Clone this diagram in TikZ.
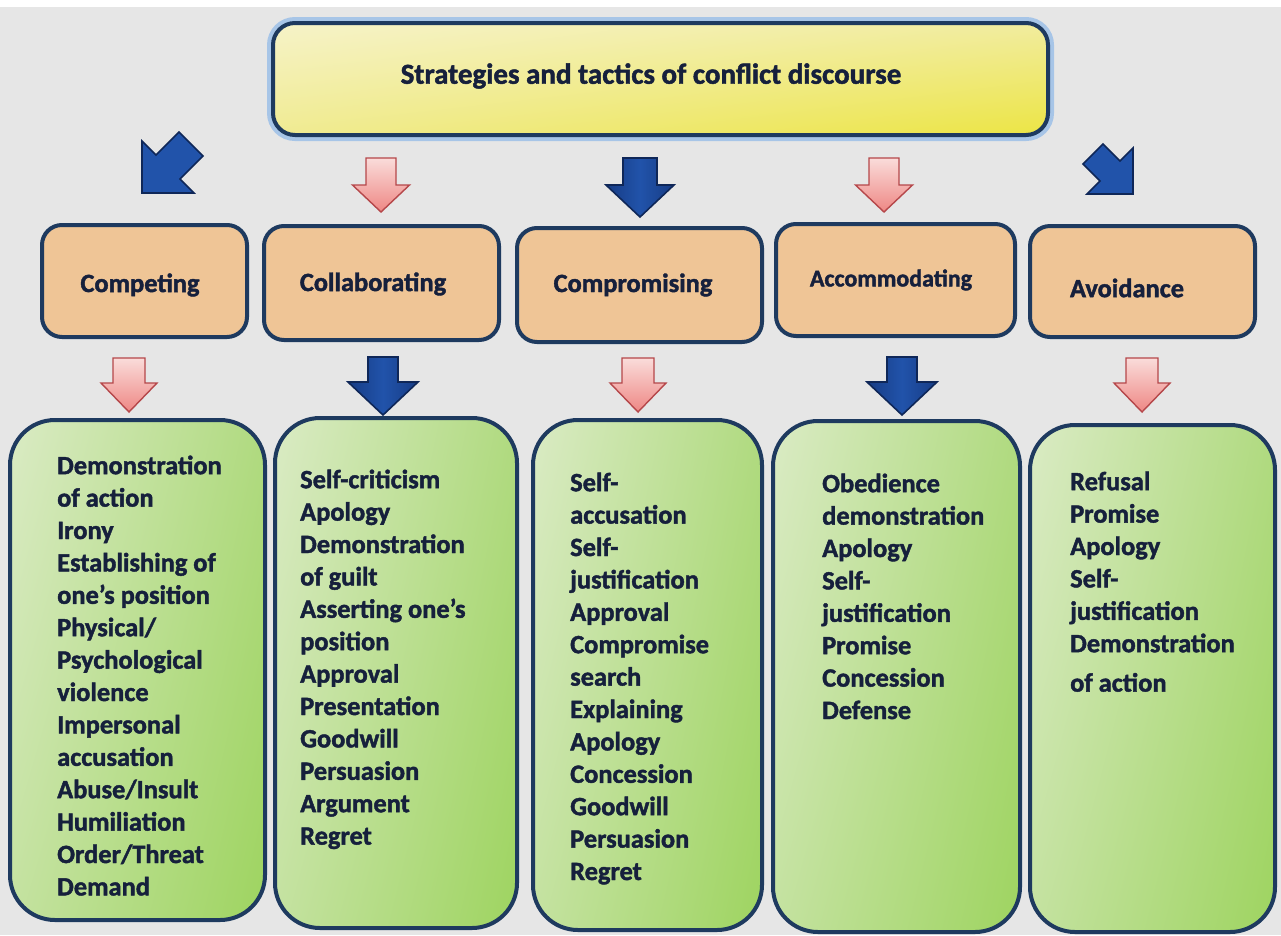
\documentclass[tikz,border=0pt]{standalone}
\usepackage{fontspec}
\setmainfont{Carlito}[BoldFeatures={FakeBold=1.6}]
\usetikzlibrary{shadings}
\definecolor{bgray}{HTML}{E6E6E6}
\definecolor{navy}{HTML}{1E3A5F}
\definecolor{ink}{HTML}{16203C}
\definecolor{tanfill}{HTML}{EFC596}
\definecolor{glowblue}{HTML}{8DB8E8}
\definecolor{pinktop}{HTML}{FADCDA}
\definecolor{pinkbot}{HTML}{EE8784}
\definecolor{pinkline}{HTML}{B5474A}
\definecolor{bluefill}{HTML}{2153AA}
\definecolor{bluedark}{HTML}{173C85}
\definecolor{blueline}{HTML}{0F2758}
\definecolor{ylwA}{HTML}{F6F3C8}
\definecolor{ylwB}{HTML}{F1EC9E}
\definecolor{ylwC}{HTML}{F0EB92}
\definecolor{ylwD}{HTML}{ECE544}
\definecolor{grnA}{HTML}{DAEBC4}
\definecolor{grnB}{HTML}{B0DA80}
\definecolor{grnC}{HTML}{C4E2A0}
\definecolor{grnD}{HTML}{9ED460}

% block arrow pointing down: #1 style, #2 centre x, #3 tail y, #4 head base y, #5 tip y, #6 shaft half width, #7 head half width
\newcommand\blockdown[7]{%
  \path[#1] ({#2-#6},#3) -- ({#2+#6},#3) -- ({#2+#6},#4) -- ({#2+#7},#4)
    -- (#2,#5) -- ({#2-#7},#4) -- ({#2-#6},#4) -- cycle;}

\begin{document}
\begin{tikzpicture}[x=1pt,y=-1pt,
  border/.style={draw=navy, line width=4pt},
  titlebox/.style={border, rounded corners=22pt, shade,
    upper left=ylwA, upper right=ylwB, lower left=ylwC, lower right=ylwD,
    preaction={draw=glowblue, line width=12pt, opacity=0.7}},
  catbox/.style={border, rounded corners=20pt, fill=tanfill},
  listbox/.style={border, rounded corners=45pt, shade,
    upper left=grnA, upper right=grnB, lower left=grnC, lower right=grnD},
  boxtext/.style={text=ink, font=\fontsize{26.4}{32.4}\selectfont\bfseries,
    inner sep=0pt, align=left, anchor=north west},
  cattext/.style={text=ink, font=\fontsize{26.4}{32.4}\selectfont\bfseries, inner sep=0pt},
  pinkarrow/.style={draw=pinkline, line width=1.4pt, line join=miter,
    top color=pinktop, bottom color=pinkbot},
  bluearrow/.style={draw=blueline, line width=1.6pt, line join=miter,
    left color=bluedark, right color=bluedark, middle color=bluefill},
  diagarrow/.style={draw=blueline, line width=1.6pt, line join=miter, fill=bluefill}
]
\useasboundingbox (0,0) rectangle (1281,935);
\fill[bgray] (0,0) rectangle (1281,935);
\fill[white] (0,0) rectangle (1281,7);

% title
\path[titlebox] (273,23) rectangle (1048,135);
\node[text=ink, font=\fontsize{29}{34}\selectfont\bfseries, inner sep=0pt] (title) at (651,76)
  {Strategies and tactics of conflict discourse};

% upper row of arrows
\path[diagarrow] (142,193) -- (142,141) -- (156,155) -- (179,132) -- (203,156)
  -- (180,179) -- (194,193) -- cycle;
\blockdown{pinkarrow}{381}{158}{185}{212}{15}{28.5}
\blockdown{bluearrow}{640}{158}{185}{217}{17}{34}
\blockdown{pinkarrow}{884}{158}{185}{212}{15}{28.5}
\path[diagarrow] (1133,194) -- (1133,148) -- (1120,161) -- (1103,144) -- (1083,164)
  -- (1100,181) -- (1087,194) -- cycle;

% strategy boxes
\path[catbox] (42,225) rectangle (247,337);
\path[catbox] (264,226) rectangle (499,340);
\path[catbox] (517,228) rectangle (762,342);
\path[catbox] (776,224) rectangle (1015,336);
\path[catbox] (1030,226) rectangle (1255,337);
\node[cattext] (c1) at (140,285) {Competing};
\node[cattext] (c2) at (373,284) {Collaborating};
\node[cattext] (c3) at (633,285) {Compromising};
\node[cattext, font=\fontsize{24}{29}\selectfont\bfseries] (c4) at (891,280) {Accommodating};
\node[cattext] (c5) at (1127,288) {Avoidance};

% lower row of arrows
\blockdown{pinkarrow}{129}{358}{383}{412}{16}{28}
\blockdown{bluearrow}{383}{357}{382}{415}{15}{35}
\blockdown{pinkarrow}{638}{358}{383}{412}{16}{28}
\blockdown{bluearrow}{902}{357}{382}{415}{15}{35}
\blockdown{pinkarrow}{1142}{358}{383}{412}{16}{28}

% tactic boxes
\path[listbox] (10,420) rectangle (265,920);
\path[listbox] (275,418) rectangle (517,928);
\path[listbox] (533,420) rectangle (762,930);
\path[listbox] (773,421) rectangle (1020,932);
\path[listbox] (1030,425) rectangle (1275,932);

\node[boxtext] (t1) at (57,453) {\rule{0pt}{21pt}Demonstration\\of action\\Irony\\Establishing of\\one’s position\\Physical/\\Psychological\\violence\\Impersonal\\accusation\\Abuse/Insult\\Humiliation\\Order/Threat\\Demand};
\node[boxtext] (t2) at (300,467) {\rule{0pt}{21pt}Self-criticism\\Apology\\Demonstration\\of guilt\\Asserting one’s\\position\\Approval\\Presentation\\Goodwill\\Persuasion\\Argument\\Regret};
\node[boxtext] (t3) at (570,470) {\rule{0pt}{21pt}Self-\\accusation\\Self-\\justification\\Approval\\Compromise\\search\\Explaining\\Apology\\Concession\\Goodwill\\Persuasion\\Regret};
\node[boxtext] (t4) at (822,471) {\rule{0pt}{21pt}Obedience\\demonstration\\Apology\\Self-\\justification\\Promise\\Concession\\Defense};
\node[boxtext] (t5) at (1070,469) {\rule{0pt}{21pt}Refusal\\Promise\\Apology\\Self-\\justification\\Demonstration\\[7pt]of action};
\end{tikzpicture}
\end{document}
